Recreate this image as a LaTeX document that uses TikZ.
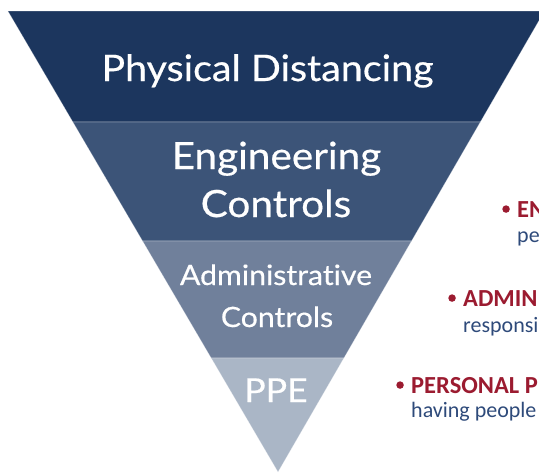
\documentclass[tikz,border=0pt]{standalone}
\usepackage{fontspec}
\setmainfont{Lato}
\newfontfamily\levelfont{Lato}[FakeBold=0.5,FakeStretch=1.08,Ligatures=NoCommon]
\newfontfamily\notefont{Carlito}
\usetikzlibrary{positioning}

\definecolor{bandA}{RGB}{28,54,94}
\definecolor{bandB}{RGB}{60,84,120}
\definecolor{bandC}{RGB}{112,128,155}
\definecolor{bandD}{RGB}{170,182,198}
\definecolor{notered}{RGB}{155,27,48}
\definecolor{noteblue}{RGB}{46,74,122}

\begin{document}
\begin{tikzpicture}[x=1pt,y=-1pt,
    band/.style={draw=white,draw opacity=0.35,line width=0.6pt},
    level/.style={white,anchor=base,inner sep=0pt},
    head/.style={notered,anchor=base west,inner sep=0pt,
      font=\notefont\bfseries\fontsize{24.5}{26}\selectfont},
    body/.style={noteblue,anchor=base west,inner sep=0pt,
      font=\notefont\fontsize{22}{26}\selectfont},
    dot/.style={circle,fill=notered,inner sep=0pt,minimum size=7.5pt}]
  \useasboundingbox (0,0) rectangle (539,472);

  % the four bands of the funnel
  \begin{scope}
    \clip (0,0) rectangle (539,472);
    \fill[bandA,band] (7.9,11) -- (544.5,11) -- (480.3,122) -- (72.9,122) -- cycle;
    \fill[bandB,band] (72.9,122) -- (480.3,122) -- (411.5,241) -- (142.6,241) -- cycle;
    \fill[bandC,band] (142.6,241) -- (411.5,241) -- (343.9,358) -- (211.2,358) -- cycle;
    \fill[bandD,band] (211.2,358) -- (343.9,358) -- (278,472) -- cycle;
  \end{scope}

  % band labels
  \node[level,font=\levelfont\fontsize{36.5}{44}\selectfont] (phys) at (267.5,81) {Physical Distancing};
  \node[level,font=\levelfont\fontsize{37.5}{44}\selectfont] (engTop) at (276.5,169) {Engineering};
  \node[level,font=\levelfont\fontsize{37.5}{44}\selectfont] (engBot) at (276,217) {Controls};
  \node[level,font=\levelfont\fontsize{28}{33}\selectfont] (admTop) at (276,285) {Administrative};
  \node[level,font=\levelfont\fontsize{28}{33}\selectfont] (admBot) at (277,327) {Controls};
  \node[level,font=\levelfont\fontsize{33}{40}\selectfont] (ppe) at (276,402) {PPE};

  % notes beside the funnel
  \begin{scope}
    \clip (0,0) rectangle (539,472);
    \node[head] (engHead) at (517,217) {EN};
    \node[below=25pt of engHead.base west,body] (engBody) {pe};
    \node[dot,left=7pt of engHead.west] (engDot) {};

    \node[head] (admHead) at (463,306) {ADMIN};
    \node[below=26pt of admHead.base west,body] (admBody) {responsi};
    \node[dot,left=7pt of admHead.west] (admDot) {};

    \node[head] (ppeHead) at (411,393) {PERSONAL P};
    \node[below=24pt of ppeHead.base west,body] (ppeBody) {having people};
    \node[dot,left=7pt of ppeHead.west] (ppeDot) {};
  \end{scope}
\end{tikzpicture}
\end{document}
